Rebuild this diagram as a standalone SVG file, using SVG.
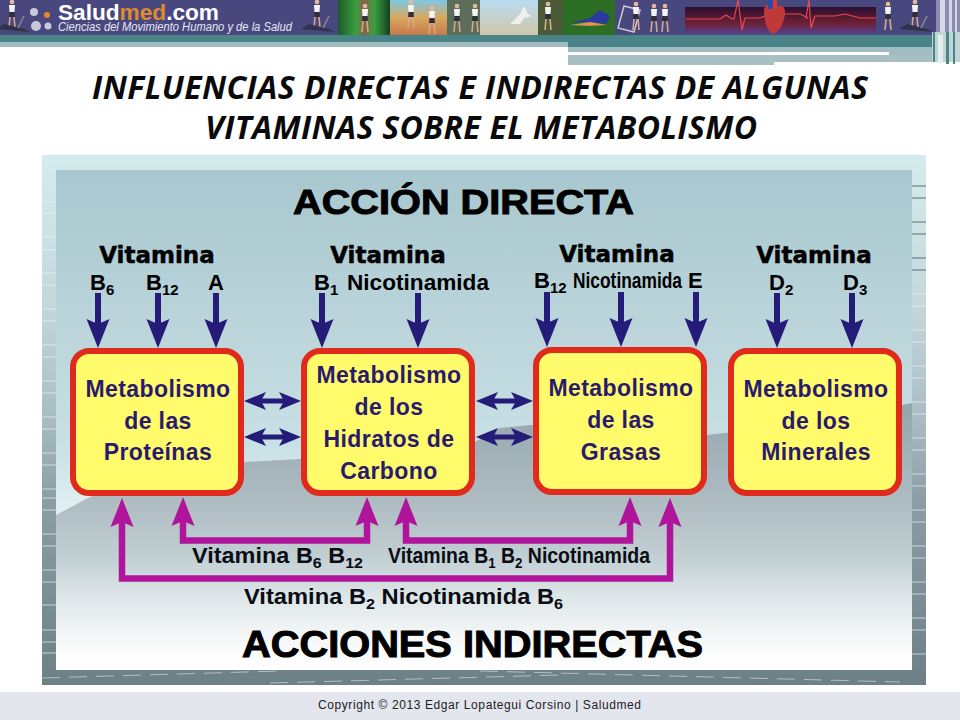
<svg xmlns="http://www.w3.org/2000/svg" xmlns:xlink="http://www.w3.org/1999/xlink" width="960" height="720" viewBox="0 0 960 720">
<style>
text{font-family:"Liberation Sans",Arial,sans-serif}
.h{font-weight:700;fill:#000;stroke:#000;stroke-width:1}
.v{font-family:"DejaVu Sans","Liberation Sans",sans-serif;font-weight:700;font-size:23px;fill:#000;stroke:#000;stroke-width:.5;text-anchor:middle}
.b{font-weight:700;font-size:22px;fill:#000}
.s{font-size:15px}
.m{font-weight:700;font-size:23px;fill:#2a1a6e;text-anchor:middle;letter-spacing:.4px}
.l{font-weight:700;font-size:22px;fill:#0c0c14}
.t{font-family:"Open Sans","Liberation Sans",sans-serif;font-style:italic;font-weight:700;font-size:32px;fill:#0a0a0a}
.box{fill:#fffb6b;stroke:#e02a1c;stroke-width:6}
.n{stroke:#241c78;stroke-width:6;fill:none;marker-end:url(#hn)}
.d{stroke:#241c78;stroke-width:5;fill:none;marker-start:url(#hd);marker-end:url(#hd)}
.p{stroke:#b0149a;stroke-width:6.500;fill:none;marker-start:url(#hp);marker-end:url(#hp);stroke-linejoin:miter}
.tl{stroke:#e8f2f4;stroke-width:1;fill:none}
.td{stroke:#5c6c72;stroke-width:1;fill:none}
</style>
<defs>
<marker id="hn" viewBox="0 0 30 24" refX="5" refY="12" markerWidth="30" markerHeight="24" markerUnits="userSpaceOnUse" orient="auto"><path d="M0 .5 29 12 0 23.500 5 12Z" fill="#241c78"/></marker>
<marker id="hp" viewBox="0 0 30 24" refX="5" refY="12" markerWidth="30" markerHeight="24" markerUnits="userSpaceOnUse" orient="auto-start-reverse"><path d="M0 .5 29 12 0 23.500 5 12Z" fill="#b0149a"/></marker>
<marker id="hd" viewBox="0 0 23 18" refX="5" refY="9" markerWidth="23" markerHeight="18" markerUnits="userSpaceOnUse" orient="auto-start-reverse"><path d="M0 0 22 9 0 18 5 9Z" fill="#241c78"/></marker>
<linearGradient id="sky" x1="0" y1="170" x2="0" y2="670" gradientUnits="userSpaceOnUse"><stop offset="0" stop-color="#a8c7ce"/><stop offset=".3" stop-color="#bad4da"/><stop offset=".55" stop-color="#c8e0e6"/><stop offset=".7" stop-color="#e6f2f4"/><stop offset="1" stop-color="#fff"/></linearGradient>
<linearGradient id="mt" x1="0" y1="405" x2="0" y2="670" gradientUnits="userSpaceOnUse"><stop offset="0" stop-color="#93a6ac"/><stop offset=".36" stop-color="#aebcc2"/><stop offset=".58" stop-color="#c2d0d4"/><stop offset=".74" stop-color="#e0e8ea"/><stop offset=".9" stop-color="#f8fafa"/><stop offset="1" stop-color="#fff"/></linearGradient>
<linearGradient id="frame" x1="0" y1="155" x2="0" y2="685" gradientUnits="userSpaceOnUse"><stop offset="0" stop-color="#d4ecee"/><stop offset=".28" stop-color="#c4d8dc"/><stop offset=".5" stop-color="#a8bcc2"/><stop offset=".65" stop-color="#8a9ea4"/><stop offset="1" stop-color="#6c8086"/></linearGradient>
<linearGradient id="ph1" x1="0" y1="0" x2="1" y2="0"><stop offset="0" stop-color="#1c5a28"/><stop offset=".35" stop-color="#3aa040"/><stop offset=".5" stop-color="#8a6048"/><stop offset=".7" stop-color="#3aa040"/><stop offset="1" stop-color="#143f20"/></linearGradient>
<linearGradient id="ph2" x1="0" y1="0" x2="0" y2="1"><stop offset="0" stop-color="#7cc8e6"/><stop offset=".5" stop-color="#d8a860"/><stop offset="1" stop-color="#c8784a"/></linearGradient>
<linearGradient id="ph3" x1="0" y1="0" x2="0" y2="1"><stop offset="0" stop-color="#b8dcf0"/><stop offset="1" stop-color="#d0c8a8"/></linearGradient>
<linearGradient id="ecg" x1="0" y1="0" x2="0" y2="1"><stop offset="0" stop-color="#2a1030"/><stop offset=".6" stop-color="#6e2034"/><stop offset="1" stop-color="#554090"/></linearGradient>
<g id="run"><circle cx="0" cy="-12" r="2.300" fill="#e8b898"/><path d="M-3-9H3L2.500-2H-2.500Z" fill="#f4f4f4"/><path d="M-2.500-2H2.500L3 3H-3Z" fill="#30303c"/><path d="M-2 3-3 14M2 3 3 14" stroke="#d8a888" stroke-width="1.600" fill="none"/></g>
<g id="tread"><use xlink:href="#run"/><path d="M-16 15 18 18 12 15-8 10Z" fill="#32324c"/><path d="M6 14 12 2" stroke="#888" stroke-width="1.500"/></g>
</defs>

<rect width="960" height="720" fill="#fff"/>

<g id="header">
<rect width="936" height="35" fill="#48487e"/>
<rect y="35" width="936" height="7" fill="#4a8488"/>
<rect y="42" width="568" height="5" fill="#a0bcc0"/>
<rect x="568" y="42" width="368" height="5" fill="#4a8488"/>
<rect x="568" y="47" width="368" height="5" fill="#a0bcc0"/>
<rect x="568" y="52" width="321" height="3" fill="#fff"/>
<rect x="889" y="52" width="47" height="3" fill="#a0bcc0"/>
<rect x="568" y="55" width="368" height="7" fill="#a8c0c4"/>
<rect x="568" y="62" width="206" height="3" fill="#a8c0c4"/>
<path d="M936 0h24v32h-24z" fill="#8c8cb0"/><path d="M940 0h5v32h-5zM949 0h3v32h-3zM955 0h2v32h-2z" fill="#d8d8e6"/>
<path d="M932 32h28v30h-28z" fill="#c0d4d6"/><path d="M933 32h2v30h-2zM946 32h3v32h-3zM953 32h2v32h-2z" fill="#4a8488"/><path d="M938 35h5v28h-5z" fill="#e4eeee"/>
<use xlink:href="#tread" x="12" y="14"/>
<g fill="#c8c8dc"><circle cx="34" cy="12" r="4"/><circle cx="36" cy="26" r="5"/><circle cx="48" cy="26" r="3.500"/></g><circle cx="47" cy="15" r="3" fill="#e08a30"/>
<text x="58" y="20" font-size="22" font-weight="700" fill="#fff" textLength="161" lengthAdjust="spacingAndGlyphs">Salud<tspan fill="#e08a30">med</tspan>.com</text>
<text x="58" y="31" font-size="12" font-style="italic" fill="#e6e6f2" textLength="234" lengthAdjust="spacingAndGlyphs">Ciencias del Movimiento Humano y de la Salud</text>
<use xlink:href="#tread" x="317" y="14"/>
<rect x="338" width="52" height="35" fill="url(#ph1)"/><use xlink:href="#run" x="365" y="18"/>
<rect x="390" width="57" height="35" fill="url(#ph2)"/><use xlink:href="#run" x="411" y="14"/><use xlink:href="#run" x="432" y="20"/>
<rect x="447" width="33" height="35" fill="#5a6e5a"/><use xlink:href="#run" x="457" y="18"/><use xlink:href="#run" x="475" y="18"/>
<rect x="480" width="58" height="35" fill="url(#ph3)"/><path d="M510 24 520 14 524 6 528 14 532 16 524 18 520 24Z" fill="#f0f0f0"/>
<rect x="538" width="25" height="35" fill="#4c5a38"/><use xlink:href="#run" x="548" y="16"/>
<rect x="563" width="52" height="35" fill="#2c6e24"/><path d="M570 23 590 18 600 10 610 16 606 24 590 22Z" fill="#2a3aa0"/><path d="M570 25 590 22 607 25 590 26Z" fill="#e09050"/>
<path d="M618 28 624 6 640 10 634 32Z" fill="none" stroke="#c8c8d8" stroke-width="1.500"/><use xlink:href="#run" x="636" y="16"/><use xlink:href="#run" x="654" y="18"/><use xlink:href="#run" x="665" y="18"/>
<rect x="685" y="7" width="191" height="27" fill="url(#ecg)"/>
<path d="M686 19H720L726 15 732 19H734L738 0 742 30 745 18H760L770 14H800L808 18H806L809 0 811 28 815 16H835L845 14 860 18H876" fill="none" stroke="#e84850" stroke-width="1.200"/>
<path d="M764 12C764 2 772 3 775 9 780 3 786 6 785 14 784 24 778 33 773 34 768 32 764 22 764 12Z" fill="#c03838"/><path d="M768 0h5v9h-5z" fill="#2a4aa8"/><path d="M773 0h4v9h-4z" fill="#d83838"/>
<use xlink:href="#run" x="888" y="16"/><use xlink:href="#tread" x="915" y="14"/>
</g>

<g id="title">
<text class="t" x="92" y="99" textLength="776" lengthAdjust="spacing">INFLUENCIAS DIRECTAS E INDIRECTAS DE ALGUNAS</text>
<text class="t" x="205" y="139" textLength="552" lengthAdjust="spacing">VITAMINAS SOBRE EL METABOLISMO</text>
</g>

<g id="panel">
<rect x="42" y="155" width="884" height="530" fill="url(#frame)"/>
<path class="tl" opacity=".7" d="M42 202H56M42 213H56M42 237H56M42 250H56M42 273H56M42 285H56M42 309H56M42 321H56M42 345H56M42 357H56M42 381H56M42 393H56M42 417H56M42 429H56M42 453H56M42 465H56M42 489H56M42 498H56M42 510H56M42 534H56M42 546H56M42 570H56M42 582H56M42 605H56M42 630H56M42 642H56M42 653H56"/>
<path class="td" d="M912 186H926M912 198H926M912 222H926M912 234H926M912 258H926M912 270H926"/>
<path class="tl" opacity=".7" d="M912 294H926M912 306H926M912 330H926M912 342H926M912 366H926M912 378H926M912 402H926M912 414H926M912 438H926M912 450H926M912 474H926M912 486H926M912 510H926M912 522H926M912 546H926M912 558H926M912 582H926M912 594H926M912 618H926M912 630H926M912 654H926"/>
<path class="tl" opacity=".55" stroke-dasharray="18 9" d="M42 678 280 671M270 683 560 675M480 671 900 682"/>
<rect x="56" y="170" width="856" height="500" fill="url(#sky)"/>
<path d="M56 515 90 497 120 485 244 462 301 459 475 442 500 428 530 425 707 435 733 432 902 405 912 403V670H56Z" fill="url(#mt)"/>
</g>

<text id="accion-directa" class="h" x="293" y="214" font-size="35" textLength="341" lengthAdjust="spacingAndGlyphs">ACCIÓN DIRECTA</text>
<text id="acciones-indirectas" class="h" x="242" y="657" font-size="37" textLength="461" lengthAdjust="spacingAndGlyphs">ACCIONES INDIRECTAS</text>

<g id="vitamin-labels">
<text class="v" x="157" y="263">Vitamina</text>
<text class="v" x="388" y="263">Vitamina</text>
<text class="v" x="617" y="262">Vitamina</text>
<text class="v" x="814" y="263">Vitamina</text>
<text class="b" x="90" y="290">B<tspan class="s" dy="5">6</tspan></text>
<text class="b" x="146" y="290">B<tspan class="s" dy="5">12</tspan></text>
<text class="b" x="208" y="290">A</text>
<text class="b" x="314" y="290">B<tspan class="s" dy="5">1</tspan></text>
<text class="b" x="347" y="290" textLength="142" lengthAdjust="spacingAndGlyphs">Nicotinamida</text>
<text class="b" x="534" y="288">B<tspan class="s" dy="5">12</tspan></text>
<text class="b" x="573" y="288" textLength="109" lengthAdjust="spacingAndGlyphs">Nicotinamida</text>
<text class="b" x="688" y="288">E</text>
<text class="b" x="769" y="290">D<tspan class="s" dy="5">2</tspan></text>
<text class="b" x="843" y="290">D<tspan class="s" dy="5">3</tspan></text>
</g>

<g id="connectors">
<path class="n" d="M98 293V324"/><path class="n" d="M158 293V324"/><path class="n" d="M216 293V324"/>
<path class="n" d="M322 293V324"/><path class="n" d="M418 293V324"/>
<path class="n" d="M547 292V323"/><path class="n" d="M621 292V323"/><path class="n" d="M696 292V323"/>
<path class="n" d="M777 293V324"/><path class="n" d="M852 293V324"/>
<path class="d" d="M261 401H284"/><path class="d" d="M261 437H284"/>
<path class="d" d="M493 401H516"/><path class="d" d="M493 437H516"/>
<path class="p" d="M183 521V540.500H367V521"/>
<path class="p" d="M406 521V540.500H630V521"/>
<path class="p" d="M122 522V578.500H670V522"/>
</g>

<g id="n-proteinas"><rect class="box" x="73" y="351" width="168" height="142" rx="16"/>
<text class="m" x="158" y="397">Metabolismo</text><text class="m" x="158" y="429">de las</text><text class="m" x="158" y="460">Proteínas</text></g>
<g id="n-hidratos"><rect class="box" x="304" y="351" width="168" height="142" rx="16"/>
<text class="m" x="389" y="383">Metabolismo</text><text class="m" x="389" y="415">de los</text><text class="m" x="389" y="447">Hidratos de</text><text class="m" x="389" y="479">Carbono</text></g>
<g id="n-grasas"><rect class="box" x="536" y="350" width="168" height="142" rx="16"/>
<text class="m" x="621" y="396">Metabolismo</text><text class="m" x="621" y="428">de las</text><text class="m" x="621" y="460">Grasas</text></g>
<g id="n-minerales"><rect class="box" x="731" y="351" width="168" height="142" rx="16"/>
<text class="m" x="816" y="397">Metabolismo</text><text class="m" x="816" y="429">de los</text><text class="m" x="816" y="460">Minerales</text></g>

<g id="connector-labels">
<text class="l" x="192" y="563" textLength="171" lengthAdjust="spacingAndGlyphs">Vitamina B<tspan class="s" dy="5">6</tspan><tspan dy="-5"> B</tspan><tspan class="s" dy="5">12</tspan></text>
<text class="l" x="388" y="563" textLength="262" lengthAdjust="spacingAndGlyphs">Vitamina B<tspan class="s" dy="5">1</tspan><tspan dy="-5"> B</tspan><tspan class="s" dy="5">2</tspan><tspan dy="-5"> Nicotinamida</tspan></text>
<text class="l" x="244" y="604" textLength="319" lengthAdjust="spacingAndGlyphs">Vitamina B<tspan class="s" dy="5">2</tspan><tspan dy="-5"> Nicotinamida B</tspan><tspan class="s" dy="5">6</tspan></text>
</g>

<g id="footer">
<rect y="692" width="960" height="28" fill="#e4e6ee"/>
<text x="318" y="709" font-size="12" fill="#222" textLength="323" lengthAdjust="spacing">Copyright © 2013 Edgar Lopategui Corsino | Saludmed</text>
</g>
</svg>
